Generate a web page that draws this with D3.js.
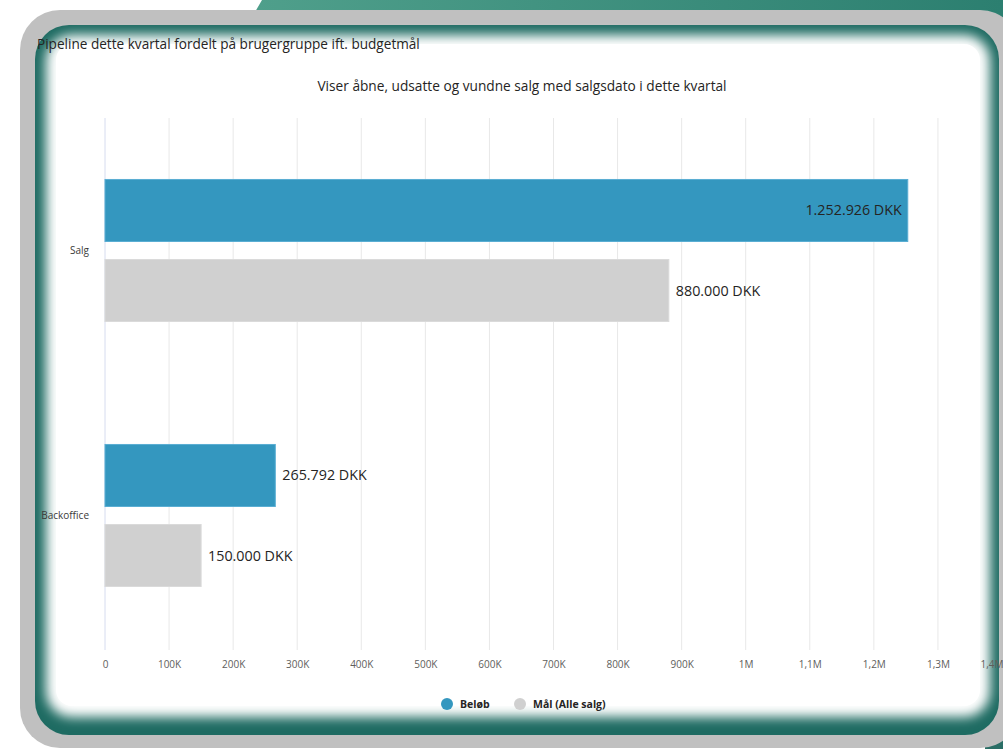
<!DOCTYPE html>
<html>
<head>
<meta charset="utf-8">
<script src="https://cdn.jsdelivr.net/npm/d3@7"></script>
<style>
  body { margin: 0; background: #fff; }
  svg { display: block; font-family: "Open Sans", "Noto Sans", sans-serif; }
</style>
</head>
<body>
<div id="container"></div>
<script>
// data
const categories = ["Salg", "Backoffice"];
const seriesNames = ["Beløb", "Mål (Alle salg)"];
const belob = [1252926, 265792];
const maal = [880000, 150000];
const tickValues = [0, 100000, 200000, 300000, 400000, 500000, 600000, 700000, 800000, 900000, 1000000, 1100000, 1200000, 1300000, 1400000];
const tickLabels = ["0", "100K", "200K", "300K", "400K", "500K", "600K", "700K", "800K", "900K", "1M", "1,1M", "1,2M", "1,3M", "1,4M"];
const colors = ["#3497bf", "#d0d0d0"];

const w = 1003;
const h = 749;

const svg = d3.select("#container")
  .append("svg")
  .attr("width", w)
  .attr("height", h);

// frame decoration
const defs = svg.append("defs");
const blur = defs.append("filter").attr("id", "soft")
  .attr("x", "-5%").attr("y", "-5%").attr("width", "110%").attr("height", "110%");
blur.append("feGaussianBlur").attr("stdDeviation", 6);

const grad = defs.append("linearGradient").attr("id", "greenGrad")
  .attr("x1", "0").attr("x2", "1").attr("y1", "0").attr("y2", "0");
grad.append("stop").attr("offset", "0").attr("stop-color", "#4f9f8b");
grad.append("stop").attr("offset", "1").attr("stop-color", "#2c7f70");

defs.append("clipPath").attr("id", "plotClip")
  .append("rect").attr("x", 40).attr("y", 30).attr("width", 942).attr("height", 690);

svg.append("path")
  .attr("d", "M262,0 L1003,0 L1003,60 L940,60 L940,12 L255,12 Z")
  .attr("fill", "url(#greenGrad)");
svg.append("path")
  .attr("d", "M985,735 L1003,735 L1003,749 L985,749 Z")
  .attr("fill", "#2a6e66");

svg.append("rect")
  .attr("x", 20).attr("y", 10)
  .attr("width", 1000).attr("height", 738)
  .attr("rx", 40)
  .attr("fill", "#c0c0c0");

svg.append("rect")
  .attr("x", 35).attr("y", 25)
  .attr("width", 964).attr("height", 710)
  .attr("rx", 34)
  .attr("fill", "#1e6b62");

svg.append("rect")
  .attr("x", 46).attr("y", 35)
  .attr("width", 944).attr("height", 682)
  .attr("rx", 26)
  .attr("fill", "#fff")
  .attr("filter", "url(#soft)");

svg.append("rect")
  .attr("x", 56).attr("y", 44)
  .attr("width", 924).attr("height", 662)
  .attr("rx", 16)
  .attr("fill", "#fff");

// titles
svg.append("text")
  .attr("x", 37).attr("y", 49)
  .attr("font-size", "13.6px")
  .attr("fill", "#252423")
  .text("Pipeline dette kvartal fordelt på brugergruppe ift. budgetmål");

svg.append("text")
  .attr("x", 522).attr("y", 91)
  .attr("text-anchor", "middle")
  .attr("font-size", "13.7px")
  .attr("fill", "#252423")
  .text("Viser åbne, udsatte og vundne salg med salgsdato i dette kvartal");

// scales
const xScale = d3.scaleLinear()
  .domain([0, 1400000])
  .range([105, 1002]);

const yScale = d3.scaleBand()
  .domain(categories)
  .range([118, 648])
  .paddingInner(0.464)
  .paddingOuter(0.232);

const subScale = d3.scaleBand()
  .domain(seriesNames)
  .range([0, yScale.bandwidth()])
  .paddingInner(0.225);

// grid
const grid = svg.append("g").attr("clip-path", "url(#plotClip)");
grid.selectAll("line")
  .data(tickValues)
  .enter()
  .append("line")
  .attr("x1", d => xScale(d)).attr("x2", d => xScale(d))
  .attr("y1", 118).attr("y2", 650)
  .attr("stroke", d => d === 0 ? "#d6dcef" : "#e8e8e8")
  .attr("stroke-width", 1);

// x axis
const xAxis = d3.axisBottom(xScale)
  .tickValues(tickValues)
  .tickFormat((d, i) => tickLabels[i])
  .tickSize(0)
  .tickPadding(0);

const gx = svg.append("g")
  .attr("transform", "translate(0,661)")
  .call(xAxis);
gx.select(".domain").remove();
gx.selectAll("text")
  .attr("font-family", "'Open Sans', 'Noto Sans', sans-serif")
  .attr("font-size", "10px")
  .attr("fill", "#605e5c");
// last label sits against the right edge
gx.selectAll(".tick").filter((d, i) => i === tickValues.length - 1)
  .select("text")
  .attr("text-anchor", "end")
  .attr("dx", 1);

// y axis
const yAxis = d3.axisLeft(yScale).tickSize(0).tickPadding(0);
const gy = svg.append("g")
  .attr("transform", "translate(89,0)")
  .call(yAxis);
gy.select(".domain").remove();
gy.selectAll("text")
  .attr("font-family", "'Open Sans', 'Noto Sans', sans-serif")
  .attr("font-size", "10px")
  .attr("fill", "#3b3a39");

// bars
const rows = categories.map((c, i) => ({ cat: c, values: [belob[i], maal[i]] }));
const fmt = d3.formatLocale({ decimal: ",", thousands: ".", grouping: [3], currency: ["", " DKK"] }).format(",d");

const groups = svg.selectAll(".grp")
  .data(rows)
  .enter()
  .append("g")
  .attr("class", "grp")
  .attr("transform", d => "translate(0," + yScale(d.cat) + ")");

groups.selectAll("rect")
  .data(d => d.values.map((v, i) => ({ s: seriesNames[i], v: v, i: i })))
  .enter()
  .append("rect")
  .attr("x", xScale(0))
  .attr("y", d => subScale(d.s))
  .attr("width", d => xScale(d.v) - xScale(0))
  .attr("height", subScale.bandwidth())
  .attr("fill", d => colors[d.i])
  .attr("stroke", d => d.i === 0 ? "#5aaed3" : "#dadada")
  .attr("stroke-width", 1);

// data labels: inside the end if it does not fit outside
groups.selectAll(".lbl")
  .data(d => d.values.map((v, i) => ({ s: seriesNames[i], v: v, i: i })))
  .enter()
  .append("text")
  .attr("class", "lbl")
  .attr("x", d => xScale(d.v) > 900 ? xScale(d.v) - 6 : xScale(d.v) + 7)
  .attr("y", d => subScale(d.s) + subScale.bandwidth() / 2)
  .attr("dy", "0.35em")
  .attr("text-anchor", d => xScale(d.v) > 900 ? "end" : "start")
  .attr("font-size", "14.3px")
  .attr("fill", "#252423")
  .text(d => fmt(d.v) + " DKK");

// legend
const legend = svg.append("g").attr("transform", "translate(0,704)");
const legendX = [447, 520];
seriesNames.forEach((name, i) => {
  legend.append("circle")
    .attr("cx", legendX[i]).attr("cy", 0)
    .attr("r", 6)
    .attr("fill", colors[i]);
  legend.append("text")
    .attr("x", legendX[i] + 13).attr("y", 0)
    .attr("dy", "0.35em")
    .attr("font-size", "10.5px")
    .attr("font-weight", "bold")
    .attr("fill", "#252423")
    .text(name);
});
</script>
</body>
</html>
